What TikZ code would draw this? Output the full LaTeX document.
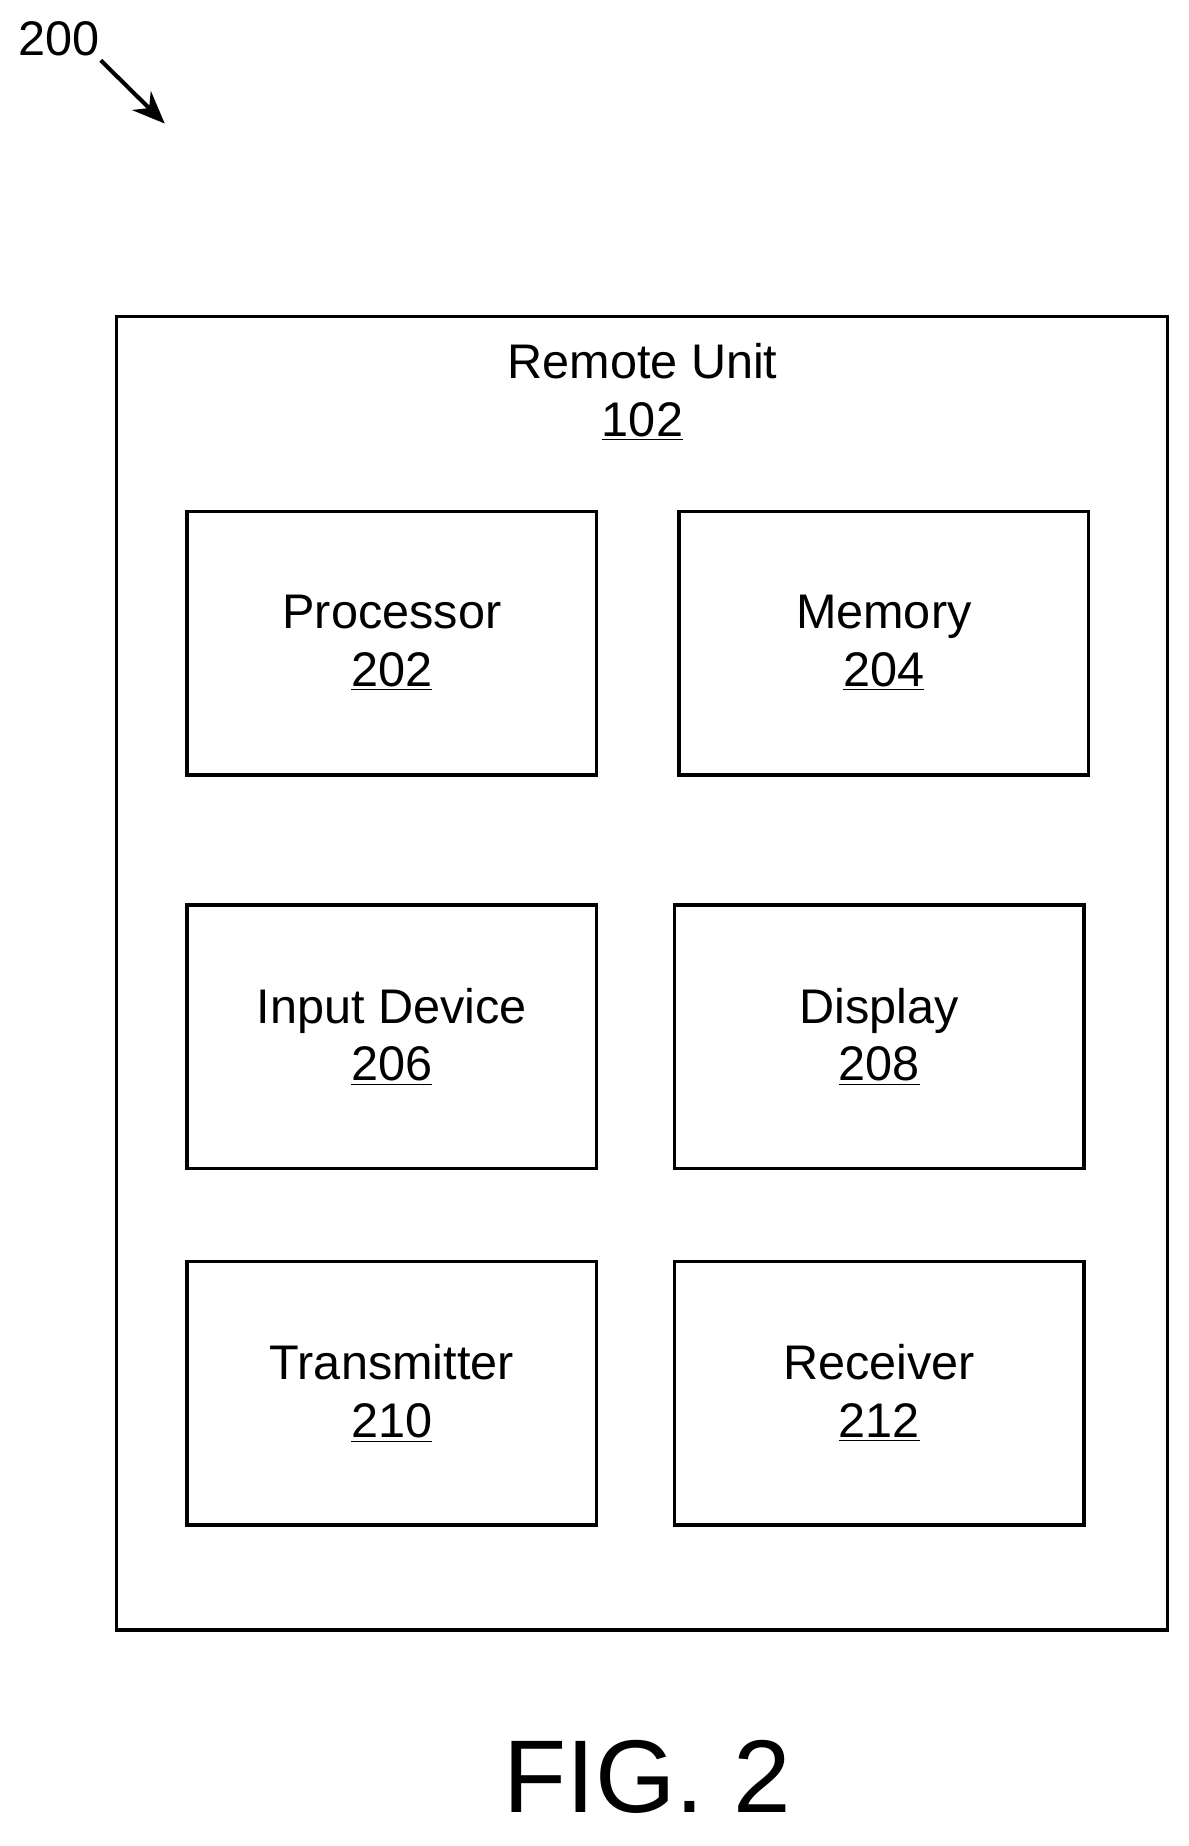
\documentclass[tikz,border=0pt]{standalone}
\usepackage{fontspec}
\setmainfont{Liberation Sans}
\usetikzlibrary{positioning,arrows.meta}

\begin{document}
\begin{tikzpicture}[
        unit/.style={rectangle, draw=black, line width=1.7pt,
                    minimum width=6.96cm, minimum height=4.48cm, align=center,
                    font=\fontsize{23.5}{28}\selectfont},
        label/.style={align=center, font=\fontsize{23.5}{28}\selectfont}
      ]
        \useasboundingbox (0,0) rectangle (20.48,-31.82);
        \begin{scope}[scale=1.0142, transform shape]
        \draw[line width=1.7pt] (1.98,-5.38) rectangle (19.84,-27.70);
        \node[label] (remote) at (10.92,-6.66) {Remote Unit\\\underline{102}};

        \node[unit] (proc) at (6.66,-10.93) {Processor\\\underline{202}};
        \node[unit] (mem) at (15.02,-10.93) {Memory\\\underline{204}};
        \node[unit] (input) at (6.66,-17.62) {Input Device\\\underline{206}};
        \node[unit] (disp) at (14.94,-17.62) {Display\\\underline{208}};
        \node[unit] (trans) at (6.66,-23.68) {Transmitter\\\underline{210}};
        \node[unit] (recv) at (14.94,-23.68) {Receiver\\\underline{212}};

        \node[label] (ref) at (1.0,-0.66) {200};
        \coordinate (tip) at (2.8,-2.1);
        \draw[-{Stealth[length=16pt,width=13pt]}, line width=2pt] (ref.south east) ++(-0.1,0.05) -- (tip);

        \node[font=\fontsize{50}{60}\selectfont] (fig) at (11.0,-30.2) {FIG. 2};
        \end{scope}
      \end{tikzpicture}
\end{document}
